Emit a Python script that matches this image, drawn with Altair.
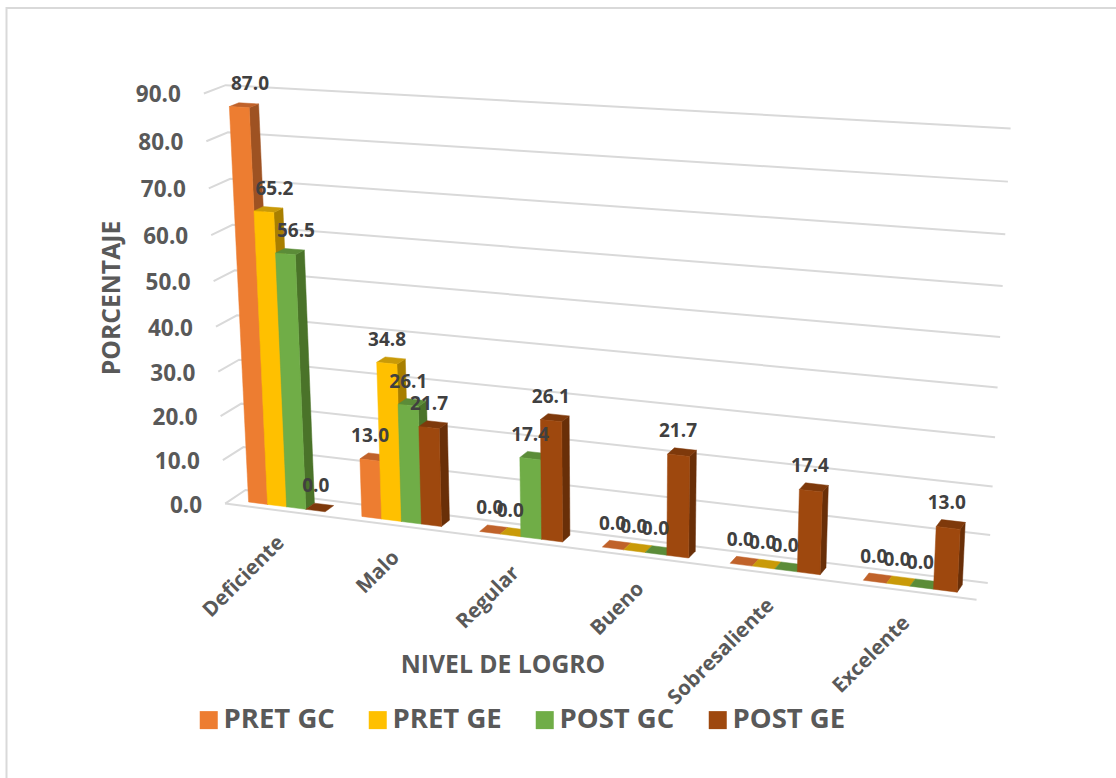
import numpy as np
import pandas as pd
import altair as alt

# Achievement levels and the four measured groups
niveles = ["Deficiente", "Malo", "Regular", "Bueno", "Sobresaliente", "Excelente"]
series = ["PRET GC", "PRET GE", "POST GC", "POST GE"]
pret_gc = [87.0, 13.0, 0.0, 0.0, 0.0, 0.0]
pret_ge = [65.2, 34.8, 0.0, 0.0, 0.0, 0.0]
post_gc = [56.5, 26.1, 17.4, 0.0, 0.0, 0.0]
post_ge = [0.0, 21.7, 26.1, 21.7, 17.4, 13.0]
valores = [pret_gc, pret_ge, post_gc, post_ge]
ticks = [0, 10, 20, 30, 40, 50, 60, 70, 80, 90]

# Face colours of each bar: front, side, top
front = ["#ED7D31", "#FFC000", "#70AD47", "#9E480E"]
side = ["#9E5222", "#A87F00", "#4A7329", "#692F08"]
top = ["#C0622A", "#C99A08", "#5B8C38", "#7E390B"]

# Box layout in scene units: one unit per level along the floor, value upward, 0-1 in depth
BAR_START, BAR_WIDTH = 0.16, 0.17
Z_FRONT, Z_BACK = 0.28, 0.72

# Camera calibration: scene point (level, value, depth) and where it lands on the canvas
camera_points = [
    (0, 0, 0, 224, 504), (0, 90, 0, 202, 93), (0, 0, 1, 245, 492), (0, 90, 1, 218, 85),
    (6, 0, 1, 987, 581), (6, 90, 1, 1010, 127), (6, 0, 0, 977, 602), (0, 10, 0, 220.7, 461),
    (.16, 0, .28, 249, 501.7), (.33, 0, .28, 267.7, 503.5), (.84, 0, .28, 325, 511),
    (.84, 0, .72, 336, 505), (1.16, 0, .28, 361.7, 516), (1.84, 0, .28, 441.7, 526),
    (1.84, 0, .72, 450.7, 520), (1.67, 21.7, .28, 419.3, 427.3), (1.84, 21.7, .28, 440, 428),
    (1.84, 21.7, .72, 448, 423), (3.16, 0, .28, 601.7, 546), (3.84, 0, .28, 688.3, 557.3),
    (3.84, 0, .72, 696, 551), (3.67, 21.7, .28, 667.3, 454), (3.84, 21.7, .28, 689.3, 456.7),
    (3.84, 21.7, .72, 696, 450.7), (5.16, 0, .28, 862.7, 580), (5.84, 0, .28, 957.3, 592.7),
    (5.84, 0, .72, 964, 586.7), (5.67, 13, .28, 936.7, 527.3), (5.84, 13, .28, 959.3, 529.3),
    (5.84, 13, .72, 965, 522.3), (2.16, 0, .28, 479.3, 530.7), (2.84, 0, .28, 562.3, 541.7),
    (4.16, 0, .28, 729.3, 563.3), (4.84, 0, .28, 820, 575),
]
# The tallest bar's top is counted three times, since small errors show most there
tall_bar_points = [(.16, 87, .28, 230, 106.7), (.33, 87, .28, 250, 107.3), (.33, 87, .72, 260.7, 104.7)]


def fit_camera(points):
    rows, rhs = [], []
    for a, v, z, sx, sy in points:
        rows.append([a, v, z, 1, 0, 0, 0, 0, -sx * a, -sx * v, -sx * z])
        rhs.append(sx)
        rows.append([0, 0, 0, 0, a, v, z, 1, -sy * a, -sy * v, -sy * z])
        rhs.append(sy)
    sol = np.linalg.lstsq(np.array(rows, float), np.array(rhs, float), rcond=None)[0]
    return np.append(sol, 1.0).reshape(3, 4)


CAMERA = fit_camera(camera_points + tall_bar_points * 3)


def project(a, v, z):
    p = CAMERA @ np.array([a, v, z, 1.0])
    return float(p[0] / p[2]), float(p[1] / p[2])


# Faces of the 3D bars, painted left to right so nearer neighbours overlap correctly
faces = []


def add_face(name, colour, corners):
    for k, corner in enumerate(list(corners) + [corners[0]]):
        sx, sy = project(*corner)
        faces.append({"face": name, "ord": k, "sx": sx, "sy": sy, "colour": colour})


labels = []
for i in range(len(niveles)):
    for j in range(len(series)):
        v = valores[j][i]
        a0 = i + BAR_START + j * BAR_WIDTH
        a1 = a0 + BAR_WIDTH
        key = f"{i:02d}{j:02d}"
        if v > 0:
            add_face(key + "a", side[j], [(a1, 0, Z_FRONT), (a1, 0, Z_BACK), (a1, v, Z_BACK), (a1, v, Z_FRONT)])
        add_face(key + "b", top[j], [(a0, v, Z_FRONT), (a1, v, Z_FRONT), (a1, v, Z_BACK), (a0, v, Z_BACK)])
        if v > 0:
            add_face(key + "c", front[j], [(a0, 0, Z_FRONT), (a1, 0, Z_FRONT), (a1, v, Z_FRONT), (a0, v, Z_FRONT)])
        sx, sy = project((a0 + a1) / 2, v, (Z_FRONT + Z_BACK) / 2)
        labels.append({"sx": sx + (6 if v > 50 else -4), "sy": sy - 21, "texto": f"{v:.1f}"})

# Gridlines run across the left wall and then the back wall
grid = []
for t in ticks:
    for k, corner in enumerate([(0, t, 0), (0, t, 1), (6, t, 1)]):
        sx, sy = project(*corner)
        grid.append({"linea": f"g{t}", "ord": k, "sx": sx, "sy": sy})
for k, corner in enumerate([(0, 0, 0), (6, 0, 0)]):
    sx, sy = project(*corner)
    grid.append({"linea": "suelo", "ord": k, "sx": sx, "sy": sy})

tick_rows = []
for t in ticks:
    sx, sy = project(0, t, 0)
    tick_rows.append({"sx": sx - 23, "sy": sy + 2, "texto": f"{t:.1f}"})

cat_rows = []
for i, nombre in enumerate(niveles):
    sx, sy = project(i + 0.5, 0, 0)
    cat_rows.append({"sx": sx, "sy": sy + 29, "texto": nombre})

# The canvas doubles as the plot area, so both scales run in canvas units
W, H = 1116, 778
X = alt.X("sx:Q", scale=alt.Scale(domain=[0, W], nice=False, zero=False), axis=None)
Y = alt.Y("sy:Q", scale=alt.Scale(domain=[H, 0], nice=False, zero=False), axis=None)
FONT = "Open Sans"
GREY = "#595959"

# Only the top and left edges of the chart frame fall inside the canvas
frame = pd.DataFrame({"sx": [6.5, 6.5, W], "sy": [H, 8, 8], "ord": range(3)})
frame_layer = alt.Chart(frame).mark_line(color="#D9D9D9", strokeWidth=2).encode(x=X, y=Y, order="ord:Q")

grid_layer = alt.Chart(pd.DataFrame(grid)).mark_line(color="#D9D9D9", strokeWidth=2).encode(
    x=X, y=Y, detail="linea:N", order="ord:Q"
)

bars_layer = alt.Chart(pd.DataFrame(faces)).mark_line(strokeWidth=0.5).encode(
    x=X, y=Y, detail="face:N", order="ord:Q",
    fill=alt.Fill("colour:N", scale=None),
    stroke=alt.Stroke("colour:N", scale=None),
)

tick_layer = alt.Chart(pd.DataFrame(tick_rows)).mark_text(
    align="right", baseline="middle", font=FONT, fontWeight="bold", fontSize=22.5, color=GREY
).encode(x=X, y=Y, text="texto:N")

cat_layer = alt.Chart(pd.DataFrame(cat_rows)).mark_text(
    align="right", baseline="middle", angle=315, font=FONT, fontWeight="bold", fontSize=20.5, color=GREY
).encode(x=X, y=Y, text="texto:N")

value_layer = alt.Chart(pd.DataFrame(labels)).mark_text(
    align="center", baseline="middle", font=FONT, fontWeight="bold", fontSize=19, color="#404040"
).encode(x=X, y=Y, text="texto:N")

titles = pd.DataFrame({"sx": [503], "sy": [666], "texto": ["NIVEL DE LOGRO"]})
title_x = alt.Chart(titles).mark_text(
    font=FONT, fontWeight="bold", fontSize=24.7, color=GREY
).encode(x=X, y=Y, text="texto:N")

title_y = alt.Chart(pd.DataFrame({"sx": [113], "sy": [298], "texto": ["PORCENTAJE"]})).mark_text(
    font=FONT, fontWeight="bold", fontSize=24.7, color=GREY, angle=270
).encode(x=X, y=Y, text="texto:N")

# Invisible points that only exist to give the chart its colour legend
legend_layer = alt.Chart(pd.DataFrame({"serie": series, "sx": [0] * 4, "sy": [0] * 4})).mark_point(
    filled=True, opacity=0
).encode(
    x=X, y=Y,
    color=alt.Color(
        "serie:N",
        scale=alt.Scale(domain=series, range=front),
        legend=alt.Legend(
            title=None, orient="none", legendX=195, legendY=706, direction="horizontal", columns=4,
            symbolType="square", symbolSize=324, symbolOpacity=1, symbolStrokeWidth=0,
            labelFont=FONT, labelFontWeight="bold", labelFontSize=27.5, labelColor=GREY,
            labelOffset=1, columnPadding=29, labelLimit=300,
        ),
    ),
)

chart = alt.layer(
    frame_layer, grid_layer, bars_layer, tick_layer, cat_layer, value_layer, title_x, title_y, legend_layer
).properties(
    width=W, height=H, background="white", padding=0, autosize=alt.AutoSizeParams(type="none")
).configure_view(stroke=None)

chart.save("out.html", embed_options={"renderer": "svg", "actions": False})
